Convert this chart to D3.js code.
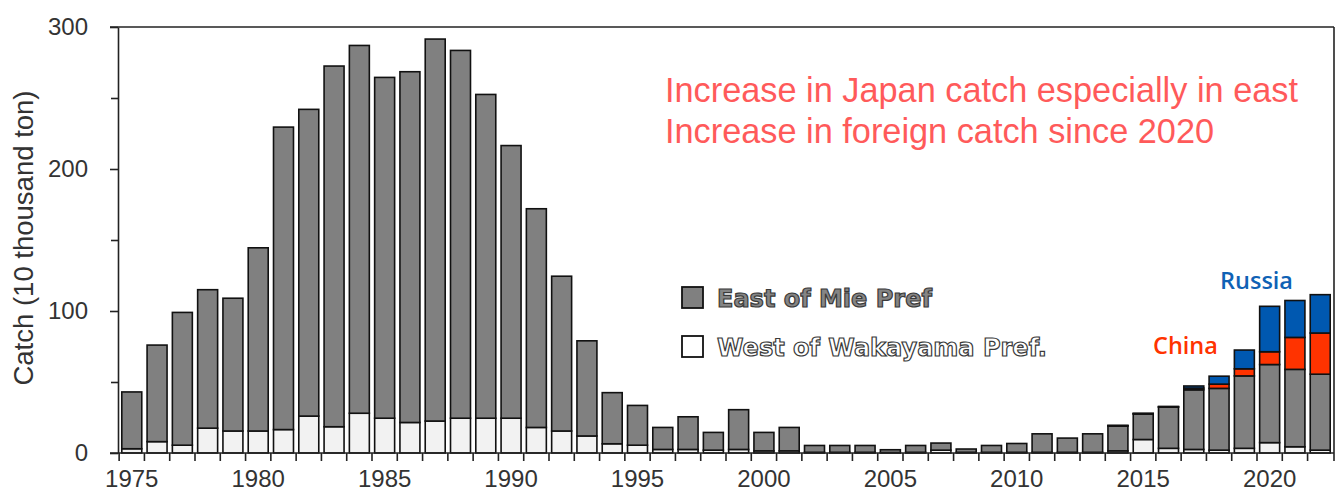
<!DOCTYPE html>
<html>
<head>
<meta charset="utf-8">
<script src="https://cdn.jsdelivr.net/npm/d3@7"></script>
<style>
  html, body { margin: 0; padding: 0; background: #fff; }
  svg { display: block; }
</style>
</head>
<body>
<svg id="chart" width="1341" height="498"></svg>
<script>
// ---- data (10 thousand ton) ----
const years = d3.range(1975, 2023);
const westWakayama = [3, 8, 5.5, 17.5, 15.5, 15.5, 16.5, 26, 18.5, 28,
  24.5, 21.5, 22.5, 24.5, 24.5, 24.5, 18, 15.5, 12, 6.5,
  5.5, 2.5, 2.5, 2, 2.5, 1.5, 1.5, 0.5, 0.5, 0.5,
  0.3, 0.5, 2, 0.5, 0.5, 0.5, 0.5, 0.5, 0.5, 1.5,
  9.5, 3.3, 2.5, 2, 3.3, 7.3, 4.4, 2];
const eastMie = [40, 68, 93.5, 97.5, 93.5, 129, 213, 216, 254, 259,
  240, 247, 269, 259, 228, 192, 154, 109, 67, 36,
  28, 15.5, 23, 12.5, 28, 13, 16.5, 4.8, 4.8, 4.8,
  2, 4.8, 5, 2.3, 4.8, 6.2, 13, 10, 13, 17.5,
  18, 29, 42, 43.5, 51, 55, 54.5, 53.5];
const china = [0, 0, 0, 0, 0, 0, 0, 0, 0, 0,
  0, 0, 0, 0, 0, 0, 0, 0, 0, 0,
  0, 0, 0, 0, 0, 0, 0, 0, 0, 0,
  0, 0, 0, 0, 0, 0, 0, 0, 0, 0.2,
  0.2, 0.2, 1.2, 3, 5, 9, 22.5, 29];
const russia = [0, 0, 0, 0, 0, 0, 0, 0, 0, 0,
  0, 0, 0, 0, 0, 0, 0, 0, 0, 0,
  0, 0, 0, 0, 0, 0, 0, 0, 0, 0,
  0, 0, 0, 0, 0, 0, 0, 0, 0, 0.3,
  0.3, 0.3, 1.5, 5.6, 13.2, 32, 26, 27];
const yTicksMajor = [0, 100, 200, 300];
const yTicksMinor = [50, 150, 250];
const xLabelYears = [1975, 1980, 1985, 1990, 1995, 2000, 2005, 2010, 2015, 2020];

const seriesKeys = ["west", "east", "china", "russia"];
const colors = { west: "#f2f2f2", east: "#808080", china: "#ff3300", russia: "#0058b0" };
const table = years.map((y, i) => ({ year: y, west: westWakayama[i], east: eastMie[i], china: china[i], russia: russia[i] }));

// ---- layout ----
const svg = d3.select("#chart");
const L = 118, R = 1334, T = 27, B = 453;

const x = d3.scaleBand().domain(years).range([L, R]).paddingInner(0.21).paddingOuter(0.15);
const y = d3.scaleLinear().domain([0, 300]).range([B, T]);

const stacked = d3.stack().keys(seriesKeys)(table);

// bars
const gBars = svg.append("g");
stacked.forEach(layer => {
  gBars.append("g").selectAll("rect")
    .data(layer.filter(d => d[1] - d[0] > 0))
    .join("rect")
    .attr("x", d => x(d.data.year))
    .attr("width", x.bandwidth())
    .attr("y", d => y(d[1]))
    .attr("height", d => y(d[0]) - y(d[1]))
    .attr("fill", colors[layer.key])
    .attr("stroke", "#111")
    .attr("stroke-width", 1.6);
});

// frame
const axisColor = "#222";
svg.append("line").attr("x1", L - 8).attr("x2", R).attr("y1", T).attr("y2", T).attr("stroke", axisColor).attr("stroke-width", 1.6);
svg.append("line").attr("x1", R).attr("x2", R).attr("y1", T).attr("y2", B).attr("stroke", axisColor).attr("stroke-width", 1.6);

// y axis
const yAxis = d3.axisLeft(y).tickValues(yTicksMajor).tickSize(8).tickPadding(22).tickSizeOuter(0);
const gy = svg.append("g").attr("transform", `translate(${L},0)`).call(yAxis);
gy.select(".domain").attr("stroke", axisColor).attr("stroke-width", 1.6);
gy.selectAll(".tick line").attr("stroke", axisColor).attr("stroke-width", 1.6);
gy.selectAll(".tick text").attr("font-family", "Liberation Sans, Arial, sans-serif").attr("font-size", 24).attr("fill", "#333");
const gyMinor = svg.append("g").attr("transform", `translate(${L},0)`)
  .call(d3.axisLeft(y).tickValues(yTicksMinor).tickSize(7).tickFormat(""));
gyMinor.select(".domain").remove();
gyMinor.selectAll(".tick line").attr("stroke", axisColor).attr("stroke-width", 1.6);

// x axis
const step = x.step();
const gx = svg.append("g").attr("transform", `translate(0,${B})`);
gx.append("line").attr("x1", L - 8).attr("x2", R).attr("y1", 0).attr("y2", 0).attr("stroke", axisColor).attr("stroke-width", 1.6);
gx.selectAll("line.tk").data(years.concat([years[years.length - 1] + 1]))
  .join("line").attr("class", "tk")
  .attr("x1", (d, i) => i < years.length ? x(d) - (step - x.bandwidth()) / 2 : R)
  .attr("x2", (d, i) => i < years.length ? x(d) - (step - x.bandwidth()) / 2 : R)
  .attr("y1", 0).attr("y2", 8)
  .attr("stroke", axisColor).attr("stroke-width", 1.6);
gx.selectAll("text").data(xLabelYears).join("text")
  .attr("x", d => x(d) + x.bandwidth() / 2)
  .attr("y", 34)
  .attr("text-anchor", "middle")
  .attr("font-family", "Liberation Sans, Arial, sans-serif")
  .attr("font-size", 24)
  .attr("fill", "#333")
  .text(d => d);

// y title
svg.append("text")
  .attr("transform", `translate(33,238) rotate(-90)`)
  .attr("text-anchor", "middle")
  .attr("font-family", "Liberation Sans, Arial, sans-serif")
  .attr("font-size", 27.5)
  .attr("fill", "#333")
  .text("Catch (10 thousand ton)");

// annotation
const noteFont = "Open Sans, Noto Sans, sans-serif";
const notes = ["Increase in Japan catch especially in east", "Increase in foreign catch since 2020"];
svg.selectAll("text.note").data(notes).join("text").attr("class", "note")
  .attr("x", 665).attr("y", (d, i) => 102 + i * 41)
  .attr("font-family", "Liberation Sans, Arial, sans-serif").attr("font-size", 34.3)
  .attr("fill", "#ff5a5a")
  .text(d => d);

// Russia / China labels
svg.append("text").attr("x", 1220).attr("y", 289)
  .attr("font-family", noteFont).attr("font-size", 23.5).attr("font-weight", 600)
  .attr("fill", "#0f62b5").text("Russia");
svg.append("text").attr("x", 1153).attr("y", 354)
  .attr("font-family", noteFont).attr("font-size", 23.5).attr("font-weight", 600)
  .attr("fill", "#ff3300").text("China");

// legend
const legendItems = [
  { label: "East of Mie Pref", fill: "#808080", textFill: "#858585" },
  { label: "West of Wakayama Pref.", fill: "#ffffff", textFill: "#ffffff" }
];
const lg = svg.append("g");
legendItems.forEach((it, i) => {
  const yy = 287 + i * 49;
  lg.append("rect").attr("x", 682).attr("y", yy).attr("width", 21).attr("height", 21)
    .attr("fill", it.fill).attr("stroke", "#111").attr("stroke-width", 1.8);
  lg.append("text").attr("x", 717).attr("y", yy + 20)
    .attr("font-family", "DejaVu Sans, Verdana, sans-serif").attr("font-weight", "bold")
    .attr("font-size", 24)
    .attr("fill", it.textFill).attr("stroke", "#3a3a3a").attr("stroke-width", 1.2)
    .text(it.label);
});
</script>
</body>
</html>
